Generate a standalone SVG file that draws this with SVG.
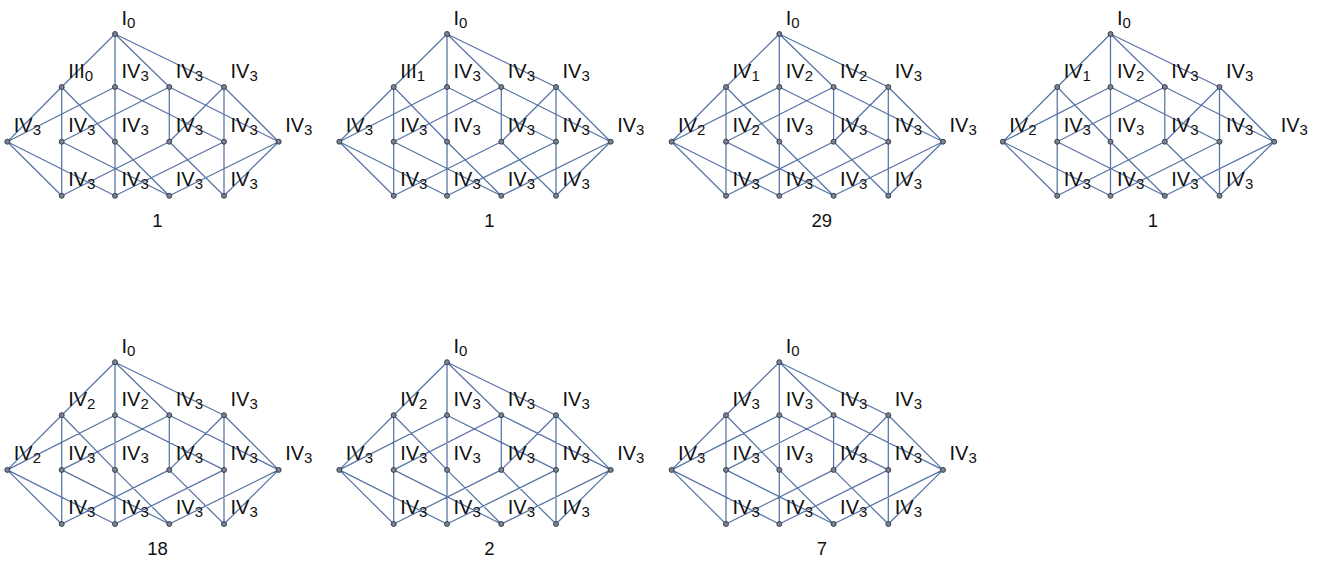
<svg xmlns="http://www.w3.org/2000/svg" xmlns:xlink="http://www.w3.org/1999/xlink" width="1323" height="563" viewBox="0 0 1323 563">
<style>
.edges{fill:none;stroke:#5874a4;stroke-width:1.25;stroke-linecap:round}
.n text{font-family:"Liberation Sans",Arial,sans-serif;font-size:20px;fill:#111}
.s{font-size:15px}
.num{font-family:"Liberation Sans",Arial,sans-serif;font-size:18.5px;fill:#111;text-anchor:middle}
</style>
<defs>
<circle id="v" r="2.5" fill="#7b8391" stroke="#2e3644" stroke-width="0.9"/>
<path id="E" d="M115 34L61.7 87M115 34L115 87M115 34L169.3 87M115 34L224 87M61.7 87L7.3 141.7M61.7 87L61.7 141.7M61.7 87L115 141.7M115 87L7.3 141.7M115 87L115 141.7M115 87L224 141.7M169.3 87L61.7 141.7M169.3 87L169.3 141.7M169.3 87L278.7 141.7M224 87L169.3 141.7M224 87L224 141.7M224 87L278.7 141.7M7.3 141.7L61.7 195.8M7.3 141.7L115 195.8M61.7 141.7L61.7 195.8M61.7 141.7L169.3 195.8M115 141.7L115 195.8M115 141.7L169.3 195.8M169.3 141.7L61.7 195.8M169.3 141.7L224 195.8M224 141.7L115 195.8M224 141.7L224 195.8M278.7 141.7L169.3 195.8M278.7 141.7L224 195.8"/>
</defs>

<g id="panel1" transform="translate(0,0)">
<g id="p1-edges" class="edges"><use href="#E"/></g>
<g id="p1-t" class="n"><use href="#v" x="115" y="34"/><text x="121.5" y="24.5">I<tspan class="s" dy="3">0</tspan></text></g>
<g id="p1-a1" class="n"><use href="#v" x="61.7" y="87"/><text x="68.2" y="77.5">III<tspan class="s" dy="3">0</tspan></text></g>
<g id="p1-a2" class="n"><use href="#v" x="115" y="87"/><text x="121.5" y="77.5">IV<tspan class="s" dy="3">3</tspan></text></g>
<g id="p1-a3" class="n"><use href="#v" x="169.3" y="87"/><text x="175.8" y="77.5">IV<tspan class="s" dy="3">3</tspan></text></g>
<g id="p1-a4" class="n"><use href="#v" x="224" y="87"/><text x="230.5" y="77.5">IV<tspan class="s" dy="3">3</tspan></text></g>
<g id="p1-b0" class="n"><use href="#v" x="7.3" y="141.7"/><text x="13.8" y="132.2">IV<tspan class="s" dy="3">3</tspan></text></g>
<g id="p1-b1" class="n"><use href="#v" x="61.7" y="141.7"/><text x="68.2" y="132.2">IV<tspan class="s" dy="3">3</tspan></text></g>
<g id="p1-b2" class="n"><use href="#v" x="115" y="141.7"/><text x="121.5" y="132.2">IV<tspan class="s" dy="3">3</tspan></text></g>
<g id="p1-b3" class="n"><use href="#v" x="169.3" y="141.7"/><text x="175.8" y="132.2">IV<tspan class="s" dy="3">3</tspan></text></g>
<g id="p1-b4" class="n"><use href="#v" x="224" y="141.7"/><text x="230.5" y="132.2">IV<tspan class="s" dy="3">3</tspan></text></g>
<g id="p1-b5" class="n"><use href="#v" x="278.7" y="141.7"/><text x="285.2" y="132.2">IV<tspan class="s" dy="3">3</tspan></text></g>
<g id="p1-c1" class="n"><use href="#v" x="61.7" y="195.8"/><text x="68.2" y="186.3">IV<tspan class="s" dy="3">3</tspan></text></g>
<g id="p1-c2" class="n"><use href="#v" x="115" y="195.8"/><text x="121.5" y="186.3">IV<tspan class="s" dy="3">3</tspan></text></g>
<g id="p1-c3" class="n"><use href="#v" x="169.3" y="195.8"/><text x="175.8" y="186.3">IV<tspan class="s" dy="3">3</tspan></text></g>
<g id="p1-c4" class="n"><use href="#v" x="224" y="195.8"/><text x="230.5" y="186.3">IV<tspan class="s" dy="3">3</tspan></text></g>
<text class="num" x="157.5" y="226.5">1</text>
</g>

<g id="panel2" transform="translate(332,0)">
<g id="p2-edges" class="edges"><use href="#E"/></g>
<g id="p2-t" class="n"><use href="#v" x="115" y="34"/><text x="121.5" y="24.5">I<tspan class="s" dy="3">0</tspan></text></g>
<g id="p2-a1" class="n"><use href="#v" x="61.7" y="87"/><text x="68.2" y="77.5">III<tspan class="s" dy="3">1</tspan></text></g>
<g id="p2-a2" class="n"><use href="#v" x="115" y="87"/><text x="121.5" y="77.5">IV<tspan class="s" dy="3">3</tspan></text></g>
<g id="p2-a3" class="n"><use href="#v" x="169.3" y="87"/><text x="175.8" y="77.5">IV<tspan class="s" dy="3">3</tspan></text></g>
<g id="p2-a4" class="n"><use href="#v" x="224" y="87"/><text x="230.5" y="77.5">IV<tspan class="s" dy="3">3</tspan></text></g>
<g id="p2-b0" class="n"><use href="#v" x="7.3" y="141.7"/><text x="13.8" y="132.2">IV<tspan class="s" dy="3">3</tspan></text></g>
<g id="p2-b1" class="n"><use href="#v" x="61.7" y="141.7"/><text x="68.2" y="132.2">IV<tspan class="s" dy="3">3</tspan></text></g>
<g id="p2-b2" class="n"><use href="#v" x="115" y="141.7"/><text x="121.5" y="132.2">IV<tspan class="s" dy="3">3</tspan></text></g>
<g id="p2-b3" class="n"><use href="#v" x="169.3" y="141.7"/><text x="175.8" y="132.2">IV<tspan class="s" dy="3">3</tspan></text></g>
<g id="p2-b4" class="n"><use href="#v" x="224" y="141.7"/><text x="230.5" y="132.2">IV<tspan class="s" dy="3">3</tspan></text></g>
<g id="p2-b5" class="n"><use href="#v" x="278.7" y="141.7"/><text x="285.2" y="132.2">IV<tspan class="s" dy="3">3</tspan></text></g>
<g id="p2-c1" class="n"><use href="#v" x="61.7" y="195.8"/><text x="68.2" y="186.3">IV<tspan class="s" dy="3">3</tspan></text></g>
<g id="p2-c2" class="n"><use href="#v" x="115" y="195.8"/><text x="121.5" y="186.3">IV<tspan class="s" dy="3">3</tspan></text></g>
<g id="p2-c3" class="n"><use href="#v" x="169.3" y="195.8"/><text x="175.8" y="186.3">IV<tspan class="s" dy="3">3</tspan></text></g>
<g id="p2-c4" class="n"><use href="#v" x="224" y="195.8"/><text x="230.5" y="186.3">IV<tspan class="s" dy="3">3</tspan></text></g>
<text class="num" x="157.5" y="226.5">1</text>
</g>

<g id="panel3" transform="translate(664.3,0)">
<g id="p3-edges" class="edges"><use href="#E"/></g>
<g id="p3-t" class="n"><use href="#v" x="115" y="34"/><text x="121.5" y="24.5">I<tspan class="s" dy="3">0</tspan></text></g>
<g id="p3-a1" class="n"><use href="#v" x="61.7" y="87"/><text x="68.2" y="77.5">IV<tspan class="s" dy="3">1</tspan></text></g>
<g id="p3-a2" class="n"><use href="#v" x="115" y="87"/><text x="121.5" y="77.5">IV<tspan class="s" dy="3">2</tspan></text></g>
<g id="p3-a3" class="n"><use href="#v" x="169.3" y="87"/><text x="175.8" y="77.5">IV<tspan class="s" dy="3">2</tspan></text></g>
<g id="p3-a4" class="n"><use href="#v" x="224" y="87"/><text x="230.5" y="77.5">IV<tspan class="s" dy="3">3</tspan></text></g>
<g id="p3-b0" class="n"><use href="#v" x="7.3" y="141.7"/><text x="13.8" y="132.2">IV<tspan class="s" dy="3">2</tspan></text></g>
<g id="p3-b1" class="n"><use href="#v" x="61.7" y="141.7"/><text x="68.2" y="132.2">IV<tspan class="s" dy="3">2</tspan></text></g>
<g id="p3-b2" class="n"><use href="#v" x="115" y="141.7"/><text x="121.5" y="132.2">IV<tspan class="s" dy="3">3</tspan></text></g>
<g id="p3-b3" class="n"><use href="#v" x="169.3" y="141.7"/><text x="175.8" y="132.2">IV<tspan class="s" dy="3">3</tspan></text></g>
<g id="p3-b4" class="n"><use href="#v" x="224" y="141.7"/><text x="230.5" y="132.2">IV<tspan class="s" dy="3">3</tspan></text></g>
<g id="p3-b5" class="n"><use href="#v" x="278.7" y="141.7"/><text x="285.2" y="132.2">IV<tspan class="s" dy="3">3</tspan></text></g>
<g id="p3-c1" class="n"><use href="#v" x="61.7" y="195.8"/><text x="68.2" y="186.3">IV<tspan class="s" dy="3">3</tspan></text></g>
<g id="p3-c2" class="n"><use href="#v" x="115" y="195.8"/><text x="121.5" y="186.3">IV<tspan class="s" dy="3">3</tspan></text></g>
<g id="p3-c3" class="n"><use href="#v" x="169.3" y="195.8"/><text x="175.8" y="186.3">IV<tspan class="s" dy="3">3</tspan></text></g>
<g id="p3-c4" class="n"><use href="#v" x="224" y="195.8"/><text x="230.5" y="186.3">IV<tspan class="s" dy="3">3</tspan></text></g>
<text class="num" x="157.5" y="226.5">29</text>
</g>

<g id="panel4" transform="translate(995.5,0)">
<g id="p4-edges" class="edges"><use href="#E"/></g>
<g id="p4-t" class="n"><use href="#v" x="115" y="34"/><text x="121.5" y="24.5">I<tspan class="s" dy="3">0</tspan></text></g>
<g id="p4-a1" class="n"><use href="#v" x="61.7" y="87"/><text x="68.2" y="77.5">IV<tspan class="s" dy="3">1</tspan></text></g>
<g id="p4-a2" class="n"><use href="#v" x="115" y="87"/><text x="121.5" y="77.5">IV<tspan class="s" dy="3">2</tspan></text></g>
<g id="p4-a3" class="n"><use href="#v" x="169.3" y="87"/><text x="175.8" y="77.5">IV<tspan class="s" dy="3">3</tspan></text></g>
<g id="p4-a4" class="n"><use href="#v" x="224" y="87"/><text x="230.5" y="77.5">IV<tspan class="s" dy="3">3</tspan></text></g>
<g id="p4-b0" class="n"><use href="#v" x="7.3" y="141.7"/><text x="13.8" y="132.2">IV<tspan class="s" dy="3">2</tspan></text></g>
<g id="p4-b1" class="n"><use href="#v" x="61.7" y="141.7"/><text x="68.2" y="132.2">IV<tspan class="s" dy="3">3</tspan></text></g>
<g id="p4-b2" class="n"><use href="#v" x="115" y="141.7"/><text x="121.5" y="132.2">IV<tspan class="s" dy="3">3</tspan></text></g>
<g id="p4-b3" class="n"><use href="#v" x="169.3" y="141.7"/><text x="175.8" y="132.2">IV<tspan class="s" dy="3">3</tspan></text></g>
<g id="p4-b4" class="n"><use href="#v" x="224" y="141.7"/><text x="230.5" y="132.2">IV<tspan class="s" dy="3">3</tspan></text></g>
<g id="p4-b5" class="n"><use href="#v" x="278.7" y="141.7"/><text x="285.2" y="132.2">IV<tspan class="s" dy="3">3</tspan></text></g>
<g id="p4-c1" class="n"><use href="#v" x="61.7" y="195.8"/><text x="68.2" y="186.3">IV<tspan class="s" dy="3">3</tspan></text></g>
<g id="p4-c2" class="n"><use href="#v" x="115" y="195.8"/><text x="121.5" y="186.3">IV<tspan class="s" dy="3">3</tspan></text></g>
<g id="p4-c3" class="n"><use href="#v" x="169.3" y="195.8"/><text x="175.8" y="186.3">IV<tspan class="s" dy="3">3</tspan></text></g>
<g id="p4-c4" class="n"><use href="#v" x="224" y="195.8"/><text x="230.5" y="186.3">IV<tspan class="s" dy="3">3</tspan></text></g>
<text class="num" x="157.5" y="226.5">1</text>
</g>

<g id="panel5" transform="translate(0,328.2)">
<g id="p5-edges" class="edges"><use href="#E"/></g>
<g id="p5-t" class="n"><use href="#v" x="115" y="34"/><text x="121.5" y="24.5">I<tspan class="s" dy="3">0</tspan></text></g>
<g id="p5-a1" class="n"><use href="#v" x="61.7" y="87"/><text x="68.2" y="77.5">IV<tspan class="s" dy="3">2</tspan></text></g>
<g id="p5-a2" class="n"><use href="#v" x="115" y="87"/><text x="121.5" y="77.5">IV<tspan class="s" dy="3">2</tspan></text></g>
<g id="p5-a3" class="n"><use href="#v" x="169.3" y="87"/><text x="175.8" y="77.5">IV<tspan class="s" dy="3">3</tspan></text></g>
<g id="p5-a4" class="n"><use href="#v" x="224" y="87"/><text x="230.5" y="77.5">IV<tspan class="s" dy="3">3</tspan></text></g>
<g id="p5-b0" class="n"><use href="#v" x="7.3" y="141.7"/><text x="13.8" y="132.2">IV<tspan class="s" dy="3">2</tspan></text></g>
<g id="p5-b1" class="n"><use href="#v" x="61.7" y="141.7"/><text x="68.2" y="132.2">IV<tspan class="s" dy="3">3</tspan></text></g>
<g id="p5-b2" class="n"><use href="#v" x="115" y="141.7"/><text x="121.5" y="132.2">IV<tspan class="s" dy="3">3</tspan></text></g>
<g id="p5-b3" class="n"><use href="#v" x="169.3" y="141.7"/><text x="175.8" y="132.2">IV<tspan class="s" dy="3">3</tspan></text></g>
<g id="p5-b4" class="n"><use href="#v" x="224" y="141.7"/><text x="230.5" y="132.2">IV<tspan class="s" dy="3">3</tspan></text></g>
<g id="p5-b5" class="n"><use href="#v" x="278.7" y="141.7"/><text x="285.2" y="132.2">IV<tspan class="s" dy="3">3</tspan></text></g>
<g id="p5-c1" class="n"><use href="#v" x="61.7" y="195.8"/><text x="68.2" y="186.3">IV<tspan class="s" dy="3">3</tspan></text></g>
<g id="p5-c2" class="n"><use href="#v" x="115" y="195.8"/><text x="121.5" y="186.3">IV<tspan class="s" dy="3">3</tspan></text></g>
<g id="p5-c3" class="n"><use href="#v" x="169.3" y="195.8"/><text x="175.8" y="186.3">IV<tspan class="s" dy="3">3</tspan></text></g>
<g id="p5-c4" class="n"><use href="#v" x="224" y="195.8"/><text x="230.5" y="186.3">IV<tspan class="s" dy="3">3</tspan></text></g>
<text class="num" x="157.5" y="226.5">18</text>
</g>

<g id="panel6" transform="translate(332,328.2)">
<g id="p6-edges" class="edges"><use href="#E"/></g>
<g id="p6-t" class="n"><use href="#v" x="115" y="34"/><text x="121.5" y="24.5">I<tspan class="s" dy="3">0</tspan></text></g>
<g id="p6-a1" class="n"><use href="#v" x="61.7" y="87"/><text x="68.2" y="77.5">IV<tspan class="s" dy="3">2</tspan></text></g>
<g id="p6-a2" class="n"><use href="#v" x="115" y="87"/><text x="121.5" y="77.5">IV<tspan class="s" dy="3">3</tspan></text></g>
<g id="p6-a3" class="n"><use href="#v" x="169.3" y="87"/><text x="175.8" y="77.5">IV<tspan class="s" dy="3">3</tspan></text></g>
<g id="p6-a4" class="n"><use href="#v" x="224" y="87"/><text x="230.5" y="77.5">IV<tspan class="s" dy="3">3</tspan></text></g>
<g id="p6-b0" class="n"><use href="#v" x="7.3" y="141.7"/><text x="13.8" y="132.2">IV<tspan class="s" dy="3">3</tspan></text></g>
<g id="p6-b1" class="n"><use href="#v" x="61.7" y="141.7"/><text x="68.2" y="132.2">IV<tspan class="s" dy="3">3</tspan></text></g>
<g id="p6-b2" class="n"><use href="#v" x="115" y="141.7"/><text x="121.5" y="132.2">IV<tspan class="s" dy="3">3</tspan></text></g>
<g id="p6-b3" class="n"><use href="#v" x="169.3" y="141.7"/><text x="175.8" y="132.2">IV<tspan class="s" dy="3">3</tspan></text></g>
<g id="p6-b4" class="n"><use href="#v" x="224" y="141.7"/><text x="230.5" y="132.2">IV<tspan class="s" dy="3">3</tspan></text></g>
<g id="p6-b5" class="n"><use href="#v" x="278.7" y="141.7"/><text x="285.2" y="132.2">IV<tspan class="s" dy="3">3</tspan></text></g>
<g id="p6-c1" class="n"><use href="#v" x="61.7" y="195.8"/><text x="68.2" y="186.3">IV<tspan class="s" dy="3">3</tspan></text></g>
<g id="p6-c2" class="n"><use href="#v" x="115" y="195.8"/><text x="121.5" y="186.3">IV<tspan class="s" dy="3">3</tspan></text></g>
<g id="p6-c3" class="n"><use href="#v" x="169.3" y="195.8"/><text x="175.8" y="186.3">IV<tspan class="s" dy="3">3</tspan></text></g>
<g id="p6-c4" class="n"><use href="#v" x="224" y="195.8"/><text x="230.5" y="186.3">IV<tspan class="s" dy="3">3</tspan></text></g>
<text class="num" x="157.5" y="226.5">2</text>
</g>

<g id="panel7" transform="translate(664.3,328.2)">
<g id="p7-edges" class="edges"><use href="#E"/></g>
<g id="p7-t" class="n"><use href="#v" x="115" y="34"/><text x="121.5" y="24.5">I<tspan class="s" dy="3">0</tspan></text></g>
<g id="p7-a1" class="n"><use href="#v" x="61.7" y="87"/><text x="68.2" y="77.5">IV<tspan class="s" dy="3">3</tspan></text></g>
<g id="p7-a2" class="n"><use href="#v" x="115" y="87"/><text x="121.5" y="77.5">IV<tspan class="s" dy="3">3</tspan></text></g>
<g id="p7-a3" class="n"><use href="#v" x="169.3" y="87"/><text x="175.8" y="77.5">IV<tspan class="s" dy="3">3</tspan></text></g>
<g id="p7-a4" class="n"><use href="#v" x="224" y="87"/><text x="230.5" y="77.5">IV<tspan class="s" dy="3">3</tspan></text></g>
<g id="p7-b0" class="n"><use href="#v" x="7.3" y="141.7"/><text x="13.8" y="132.2">IV<tspan class="s" dy="3">3</tspan></text></g>
<g id="p7-b1" class="n"><use href="#v" x="61.7" y="141.7"/><text x="68.2" y="132.2">IV<tspan class="s" dy="3">3</tspan></text></g>
<g id="p7-b2" class="n"><use href="#v" x="115" y="141.7"/><text x="121.5" y="132.2">IV<tspan class="s" dy="3">3</tspan></text></g>
<g id="p7-b3" class="n"><use href="#v" x="169.3" y="141.7"/><text x="175.8" y="132.2">IV<tspan class="s" dy="3">3</tspan></text></g>
<g id="p7-b4" class="n"><use href="#v" x="224" y="141.7"/><text x="230.5" y="132.2">IV<tspan class="s" dy="3">3</tspan></text></g>
<g id="p7-b5" class="n"><use href="#v" x="278.7" y="141.7"/><text x="285.2" y="132.2">IV<tspan class="s" dy="3">3</tspan></text></g>
<g id="p7-c1" class="n"><use href="#v" x="61.7" y="195.8"/><text x="68.2" y="186.3">IV<tspan class="s" dy="3">3</tspan></text></g>
<g id="p7-c2" class="n"><use href="#v" x="115" y="195.8"/><text x="121.5" y="186.3">IV<tspan class="s" dy="3">3</tspan></text></g>
<g id="p7-c3" class="n"><use href="#v" x="169.3" y="195.8"/><text x="175.8" y="186.3">IV<tspan class="s" dy="3">3</tspan></text></g>
<g id="p7-c4" class="n"><use href="#v" x="224" y="195.8"/><text x="230.5" y="186.3">IV<tspan class="s" dy="3">3</tspan></text></g>
<text class="num" x="157.5" y="226.5">7</text>
</g>
</svg>
